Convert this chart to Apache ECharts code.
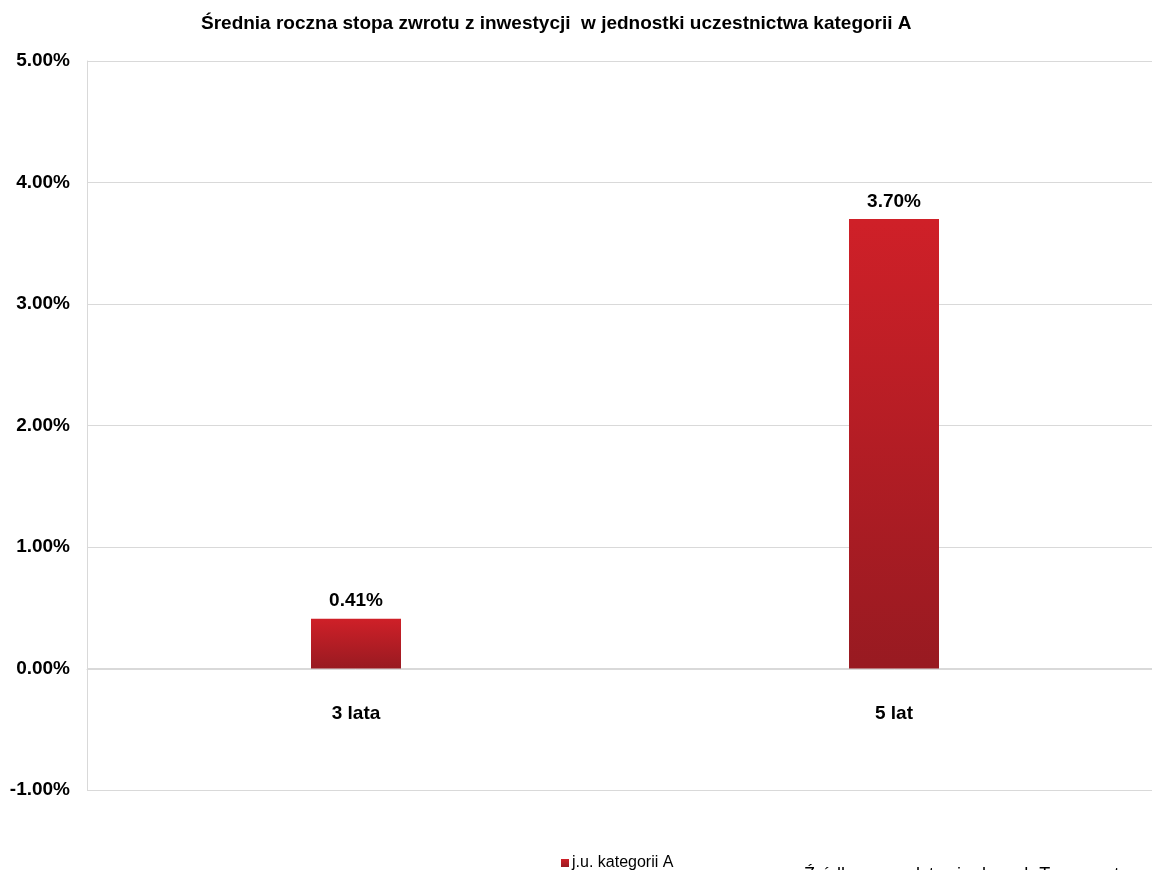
<!DOCTYPE html>
<html><head><meta charset="utf-8">
<script src="https://cdn.jsdelivr.net/npm/echarts@6/dist/echarts.min.js"></script>
<style>html,body{margin:0;padding:0;background:#fff;overflow:hidden}#c{width:1163px;height:870px}</style>
</head><body><div id="c"></div>
<script>
const categories = ['3 lata', '5 lat'];
const seriesName = 'j.u. kategorii A';
const values = [0.41, 3.70];
const yTicks = { min: -1, max: 5, interval: 1 };
const titleText = 'Średnia roczna stopa zwrotu z inwestycji  w jednostki uczestnictwa kategorii A';
const sourceText = 'Źródło: na podstawie danych Towarzystwa';

const chart = echarts.init(document.getElementById('c'));
const font = '"Liberation Sans", Arial, sans-serif';
chart.setOption({
  animation: false,
  title: { text: titleText, left: 196, top: 9,
    textStyle: { fontFamily: font, fontSize: 19, fontWeight: 'bold', color: '#000' } },
  grid: { left: 87, right: 0, top: 61, height: 729 },
  legend: { data: [seriesName], left: 556, top: 850, itemWidth: 8, itemHeight: 8, itemGap: 4,
    icon: 'rect', textStyle: { fontFamily: font, fontSize: 16, color: '#000', padding: [0, 0, 0, -2] } },
  xAxis: { type: 'category', data: categories, offset: -121,
    axisLine: { onZero: false, lineStyle: { color: '#d9d9d9' } }, axisTick: { show: false },
    axisLabel: { margin: 35, fontFamily: font, fontSize: 19, fontWeight: 'bold', color: '#000' } },
  yAxis: { type: 'value', min: yTicks.min, max: yTicks.max, interval: yTicks.interval,
    axisLine: { show: true, lineStyle: { color: '#d9d9d9' } }, axisTick: { show: false },
    splitLine: { lineStyle: { color: '#d9d9d9' } },
    axisLabel: { margin: 17, fontFamily: font, fontSize: 19, fontWeight: 'bold', color: '#000',
      padding: [4, 0, 0, 0], formatter: v => v.toFixed(2) + '%' } },
  series: [{ name: seriesName, type: 'bar', data: values, barWidth: 90,
    itemStyle: { color: new echarts.graphic.LinearGradient(0, 0, 0, 1,
      [{ offset: 0, color: '#cf2028' }, { offset: 1, color: '#981a21' }]) },
    label: { show: true, position: 'top', distance: 8, fontFamily: font, fontSize: 19,
      fontWeight: 'bold', color: '#000', formatter: p => p.value.toFixed(2) + '%' } }],
  graphic: [{ type: 'text', left: 804, top: 866,
    style: { text: sourceText, fontFamily: font, fontSize: 18, fill: '#000' } }]
});
</script></body></html>
